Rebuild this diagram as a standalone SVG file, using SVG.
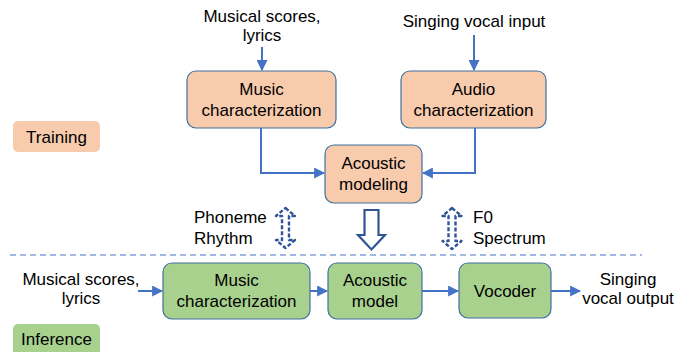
<svg xmlns="http://www.w3.org/2000/svg" width="693" height="352" viewBox="0 0 693 352">
  <defs>
    <marker id="arr" viewBox="0 0 10 10" refX="9" refY="5" markerWidth="5.5" markerHeight="5.5" markerUnits="strokeWidth" orient="auto">
      <path d="M0,0 L10,5 L0,10 z" fill="#4472C4"/>
    </marker>
    <style>
      .t { font-family: "Liberation Sans", Arial, sans-serif; font-size: 17px; fill: #000; text-anchor: middle; }
      .tl { font-family: "Liberation Sans", Arial, sans-serif; font-size: 17px; fill: #000; text-anchor: start; }
      .train { fill: #F8CBAD; stroke: #41719C; stroke-width: 1.2; }
      .infer { fill: #A9D18E; stroke: #41719C; stroke-width: 1.2; }
      .conn { fill: none; stroke: #4472C4; stroke-width: 2; marker-end: url(#arr); }
      .dbl { fill: none; stroke: #2F5597; stroke-width: 2.4; stroke-dasharray: 4 2; stroke-linejoin: round; }
    </style>
  </defs>

  <!-- phase labels -->
  <g id="label-training">
    <rect x="13" y="121" width="87" height="31" rx="5" fill="#F8CBAD"/>
    <text class="t" x="56.5" y="142.5">Training</text>
  </g>
  <g id="label-inference">
    <rect x="13" y="324" width="87" height="34" rx="5" fill="#A9D18E"/>
    <text class="t" x="56.5" y="345">Inference</text>
  </g>

  <!-- training inputs -->
  <g id="in-scores-train">
    <text class="t" x="262" y="22">Musical scores,</text>
    <text class="t" x="262" y="41">lyrics</text>
  </g>
  <g id="in-vocal">
    <text class="t" x="474" y="27">Singing vocal input</text>
  </g>

  <!-- training nodes -->
  <g id="music-char-train">
    <rect class="train" x="187" y="71" width="149" height="57" rx="9"/>
    <text class="t" x="261.5" y="95">Music</text>
    <text class="t" x="261.5" y="115.5">characterization</text>
  </g>
  <g id="audio-char">
    <rect class="train" x="401" y="71" width="145" height="57" rx="9"/>
    <text class="t" x="473.5" y="95">Audio</text>
    <text class="t" x="473.5" y="115.5">characterization</text>
  </g>
  <g id="acoustic-modeling">
    <rect class="train" x="325" y="145" width="97" height="58" rx="9"/>
    <text class="t" x="373.5" y="169">Acoustic</text>
    <text class="t" x="373.5" y="190">modeling</text>
  </g>

  <!-- feature labels -->
  <g id="feat-left">
    <text class="tl" x="194" y="223">Phoneme</text>
    <text class="tl" x="194" y="244">Rhythm</text>
  </g>
  <g id="feat-right">
    <text class="tl" x="473" y="223">F0</text>
    <text class="tl" x="473" y="244">Spectrum</text>
  </g>

  <!-- inference nodes -->
  <g id="in-scores-infer">
    <text class="t" x="81" y="285">Musical scores,</text>
    <text class="t" x="81" y="304">lyrics</text>
  </g>
  <g id="music-char-infer">
    <rect class="infer" x="163" y="263" width="147" height="56" rx="9"/>
    <text class="t" x="236.5" y="286">Music</text>
    <text class="t" x="236.5" y="306.5">characterization</text>
  </g>
  <g id="acoustic-model">
    <rect class="infer" x="328" y="263" width="94" height="56" rx="9"/>
    <text class="t" x="375" y="286">Acoustic</text>
    <text class="t" x="375" y="306.5">model</text>
  </g>
  <g id="vocoder">
    <rect class="infer" x="459" y="263" width="92" height="55" rx="9"/>
    <text class="t" x="505" y="297">Vocoder</text>
  </g>
  <g id="out-vocal">
    <text class="t" x="628" y="285">Singing</text>
    <text class="t" x="628" y="304">vocal output</text>
  </g>

  <!-- connectors -->
  <g id="connectors">
    <line class="conn" x1="262" y1="47" x2="262" y2="70"/>
    <line class="conn" x1="474" y1="35" x2="474" y2="70"/>
    <polyline class="conn" points="261,128 261,173 324,173"/>
    <polyline class="conn" points="475,128 475,173 423,173"/>
    <line class="conn" x1="138" y1="291" x2="162" y2="291"/>
    <line class="conn" x1="310" y1="291" x2="327" y2="291"/>
    <line class="conn" x1="422" y1="291" x2="458" y2="291"/>
    <line class="conn" x1="551" y1="291" x2="580" y2="291"/>

    <!-- dashed two-way block arrows -->
    <path class="dbl" d="M285.5,208 L295,216 L289,216 L289,240 L295,240 L285.5,248 L276,240 L282,240 L282,216 L276,216 Z"/>
    <path class="dbl" d="M452,208 L461.5,216 L455.5,216 L455.5,241 L461.5,241 L452,249 L442.5,241 L448.5,241 L448.5,216 L442.5,216 Z"/>

    <!-- hollow down arrow -->
    <path d="M364.5,210 L378.5,210 L378.5,235 L385,235 L371.5,249.5 L358,235 L364.5,235 Z" fill="#fff" stroke="#2F5597" stroke-width="2.2" stroke-linejoin="miter"/>

    <!-- phase divider -->
    <line x1="10" y1="255" x2="642" y2="255" stroke="#4472C4" stroke-width="1.2" stroke-dasharray="6 4"/>
  </g>
</svg>
